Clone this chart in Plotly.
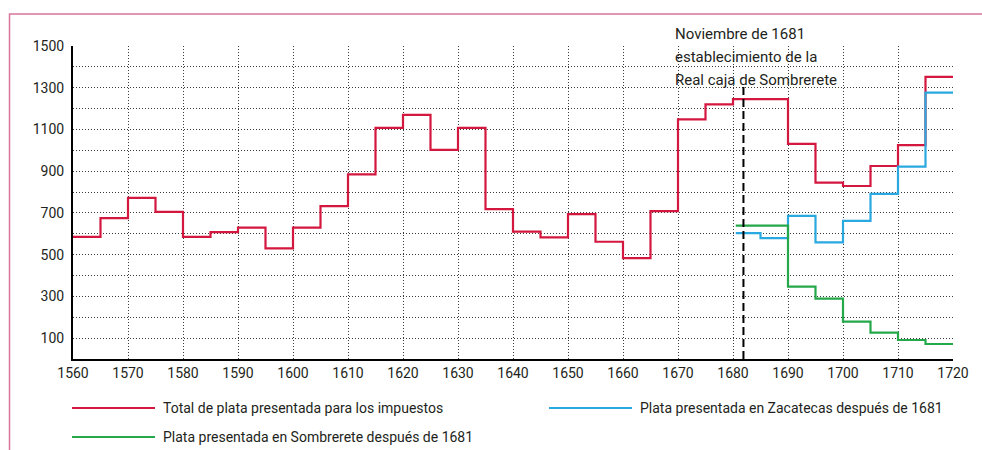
import plotly.graph_objects as go

# ---------------- data ----------------
total_years = [1560, 1565, 1570, 1575, 1580, 1585, 1590, 1595, 1600, 1605,
               1610, 1615, 1620, 1625, 1630, 1635, 1640, 1645, 1650, 1655,
               1660, 1665, 1670, 1675, 1680, 1685, 1690, 1695, 1700, 1705,
               1710, 1715, 1720]
total_values = [585, 675, 772, 705, 585, 608, 630, 530, 630, 733,
                885, 1108, 1170, 1002, 1108, 718, 610, 583, 694, 562,
                483, 709, 1148, 1220, 1245, 1245, 1031, 845, 829, 925,
                1025, 1352, 1352]

zac_years = [1680.5, 1685, 1690, 1695, 1700, 1705, 1710, 1715, 1720]
zac_values = [603, 579, 686, 559, 662, 791, 922, 1277, 1277]

som_years = [1680.5, 1690, 1695, 1700, 1705, 1710, 1715, 1720]
som_values = [639, 347, 289, 179, 126, 91, 72, 72]

series_names = ["Total de plata presentada para los impuestos",
                "Plata presentada en Zacatecas después de 1681",
                "Plata presentada en Sombrerete después de 1681"]

x_ticks = list(range(1560, 1721, 10))
y_ticks = [100, 300, 500, 700, 900, 1100, 1300, 1500]
y_minor = [200, 400, 600, 800, 1000, 1200, 1400]

event_year = 1681.9
event_top = 1310
event_lines = ["Noviembre de 1681", "establecimiento de la", "Real caja de Sombrerete"]

# ---------------- style ----------------
FONT = "Roboto, Liberation Sans, sans-serif"
RED = "#d3173f"
BLUE = "#2aa8e0"
GREEN = "#25a84a"
TXT = "#231f20"
GRID = "#3a3a3a"
colors = [RED, BLUE, GREEN]

W, H = 982, 450
L, R, T, B = 73, 29, 46, 91
pw, ph = W - L - R, H - T - B


def px2x(px):
    return (px - L) / pw


def py2y(py):
    return (H - B - py) / ph


fig = go.Figure()
for xs, ys, name, col in [(total_years, total_values, series_names[0], RED),
                          (zac_years, zac_values, series_names[1], BLUE),
                          (som_years, som_values, series_names[2], GREEN)]:
    fig.add_trace(go.Scatter(x=xs, y=ys, mode="lines", name=name,
                             line=dict(color=col, width=2.2, shape="hv"),
                             showlegend=False))

# event dashed line
fig.add_trace(go.Scatter(x=[event_year, event_year], y=[0, event_top], mode="lines",
                         line=dict(color="black", width=2, dash="8px,4px"),
                         showlegend=False, hoverinfo="skip"))

for i, line in enumerate(event_lines):
    fig.add_annotation(x=px2x(673), xref="paper", y=py2y(34 + 23 * i), yref="paper",
                       text=line, showarrow=False, xanchor="left", yanchor="middle",
                       align="left", font=dict(family=FONT, size=15, color=TXT))

# manual legend
legend_pos = [(72, 408), (549, 408), (72, 437)]
for (lx, ly), name, col in zip(legend_pos, series_names, colors):
    fig.add_shape(type="line", xref="paper", yref="paper",
                  x0=px2x(lx), x1=px2x(lx + 83), y0=py2y(ly), y1=py2y(ly),
                  line=dict(color=col, width=2))
    fig.add_annotation(xref="paper", yref="paper", x=px2x(lx + 89), y=py2y(ly),
                       text=name, showarrow=False, xanchor="left", yanchor="middle",
                       font=dict(family=FONT, size=14, color=TXT))

# pink frame
fig.add_shape(type="rect", xref="paper", yref="paper",
              x0=px2x(9.5), x1=px2x(990), y0=py2y(14), y1=py2y(460),
              line=dict(color="#d9749f", width=1.5), layer="above")

grid = dict(showgrid=True, gridcolor=GRID, gridwidth=1, griddash="1px,2px")
fig.update_xaxes(range=[1560, 1720], tickvals=x_ticks, **grid,
                 showline=True, linecolor="black", linewidth=2, zeroline=False,
                 ticks="", tickfont=dict(family=FONT, size=14, color=TXT))
fig.update_yaxes(range=[0, 1500], tickvals=y_ticks, **grid,
                 minor=dict(tickvals=y_minor, showgrid=True, gridcolor=GRID,
                            gridwidth=1, griddash="1px,2px"),
                 showline=True, linecolor="black", linewidth=2, zeroline=False,
                 ticks="", ticklabelstandoff=4,
                 tickfont=dict(family=FONT, size=14, color=TXT))

fig.update_layout(width=W, height=H, margin=dict(l=L, r=R, t=T, b=B),
                  plot_bgcolor="white", paper_bgcolor="white",
                  font=dict(family=FONT, color=TXT))

fig.write_html("out.html", config={"displayModeBar": False},
               post_script="document.body.style.margin='0px';document.body.style.overflow='hidden';")
